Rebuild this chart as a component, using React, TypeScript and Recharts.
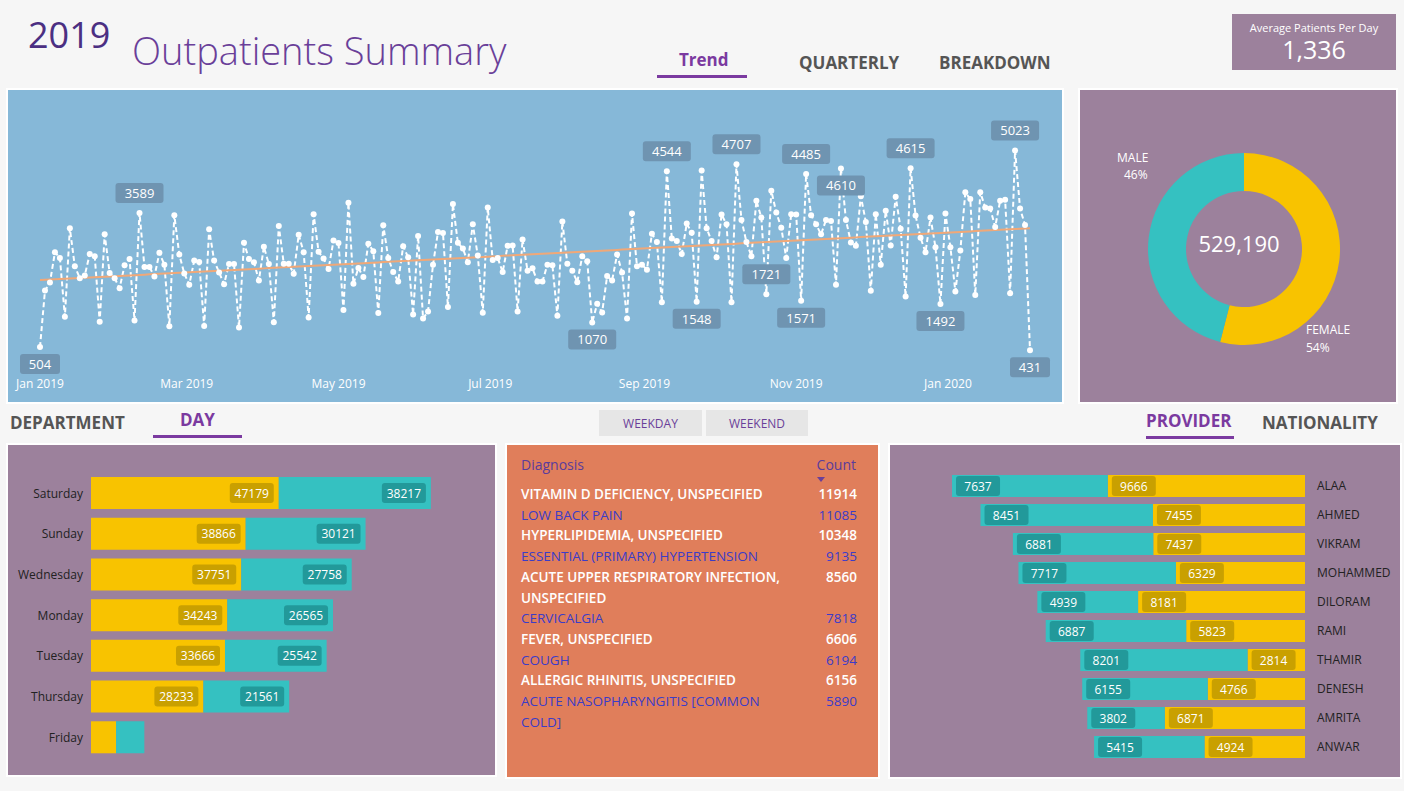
import {
  LineChart,
  Line,
  XAxis,
  YAxis,
  BarChart,
  Bar,
  LabelList,
  PieChart,
  Pie,
  Cell,
} from "recharts";

// daily outpatients, sampled every 2 days from Jan 1 2019
const visits = [
  504, 1803, 1989, 2685, 2554, 1200, 3234, 2360, 2089, 2151, 2646, 2592, 1084, 3095, 2206, 2089, 1858, 2383, 2530, 1115,
  3589, 2345, 2345, 2128, 2670, 2399, 984, 3536, 2631, 2198, 1935, 2492, 2461, 991, 3211, 2492, 2221, 1950, 2414, 2414,
  953, 2901, 2530, 2453, 2036, 2809, 2414, 1076, 3288, 2422, 2422, 2190, 3087, 2685, 1185, 3559, 2693, 2538, 2298, 2956,
  2894, 1355, 3822, 1958, 2321, 2113, 2878, 2708, 1285, 3304, 2554, 2229, 2012, 2824, 2569, 1254, 3056, 1161, 1324, 2399,
  3149, 3126, 1424, 3791, 2901, 2770, 2453, 3327, 2608, 1293, 3713, 2507, 2554, 2229, 2832, 2840, 1324, 2979, 2260, 2314,
  2012, 2012, 2399, 2383, 1223, 3389, 2422, 2260, 1997, 2592, 2476, 1070, 1502, 1301, 2136, 2035, 2631, 2221, 1162, 3574,
  2360, 2399, 2283, 3110, 2917, 1533, 4544, 3002, 2940, 2646, 3342, 3133, 1548, 4564, 3234, 2940, 2569, 3551, 3327, 1533,
  4707, 3427, 2917, 2592, 3868, 3481, 1721, 4100, 3597, 3250, 2553, 3559, 3551, 1571, 4485, 3536, 3327, 3095, 3427, 3404,
  1935, 4610, 3427, 2909, 2832, 3969, 3381, 1796, 3559, 2399, 3636, 2840, 3961, 3226, 1664, 4615, 3528, 3017, 2685, 3481,
  2801, 1492, 3574, 2801, 1780, 2724, 4061, 3907, 1703, 4061, 3713, 3690, 3265, 3868, 3891, 1742, 5023, 3690, 3311, 431,
];
const labelledUp = [3589, 4544, 4707, 1721, 4485, 4615, 5023];
const labelledDown = [504, 1070, 1548, 1571, 4610, 1492, 431];
const monthTicks = [0, 59, 120, 181, 243, 304, 365];
const monthLabels = ["Jan 2019", "Mar 2019", "May 2019", "Jul 2019", "Sep 2019", "Nov 2019", "Jan 2020"];

const weekdays = ["Saturday", "Sunday", "Wednesday", "Monday", "Tuesday", "Thursday", "Friday"];
const dayFemale = [47179, 38866, 37751, 34243, 33666, 28233, 6300];
const dayMale = [38217, 30121, 27758, 26565, 25542, 21561, 7100];

const providers = ["ALAA", "AHMED", "VIKRAM", "MOHAMMED", "DILORAM", "RAMI", "THAMIR", "DENESH", "AMRITA", "ANWAR"];
const providerMale = [7637, 8451, 6881, 7717, 4939, 6887, 8201, 6155, 3802, 5415];
const providerFemale = [9666, 7455, 7437, 6329, 8181, 5823, 2814, 4766, 6871, 4924];

const genders = ["FEMALE", "MALE"];
const genderCounts = [285763, 243427];
const genderPct = ["54%", "46%"];

const diagnoses = [
  "VITAMIN D DEFICIENCY, UNSPECIFIED",
  "LOW BACK PAIN",
  "HYPERLIPIDEMIA, UNSPECIFIED",
  "ESSENTIAL (PRIMARY) HYPERTENSION",
  "ACUTE UPPER RESPIRATORY INFECTION, UNSPECIFIED",
  "CERVICALGIA",
  "FEVER, UNSPECIFIED",
  "COUGH",
  "ALLERGIC RHINITIS, UNSPECIFIED",
  "ACUTE NASOPHARYNGITIS [COMMON COLD]",
];
const diagnosisCounts = [11914, 11085, 10348, 9135, 8560, 7818, 6606, 6194, 6156, 5890];

const FONT = "'Segoe UI', 'Open Sans', sans-serif";
const MAUVE = "#9c819c";
const YELLOW = "#f8c300";
const TEAL = "#35c1c1";
const PURPLE = "#6a3f99";

// least-squares trend line
const n = visits.length;
const xs = visits.map((_, i) => i * 2);
const mx = xs.reduce((a, b) => a + b, 0) / n;
const my = visits.reduce((a, b) => a + b, 0) / n;
const slope =
  xs.reduce((s, x, i) => s + (x - mx) * (visits[i] - my), 0) /
  xs.reduce((s, x) => s + (x - mx) ** 2, 0);
const trendData = visits.map((v, i) => ({
  day: xs[i],
  value: v,
  trend: my + slope * (xs[i] - mx),
}));

const dayData = weekdays.map((d, i) => ({ name: d, female: dayFemale[i], male: dayMale[i] }));
const providerData = providers.map((p, i) => ({ name: p, female: providerFemale[i], male: providerMale[i] }));
const genderData = genders.map((g, i) => ({ name: g, value: genderCounts[i] }));

const PointLabel = (props: any) => {
  const { x, y, value } = props;
  const up = labelledUp.includes(value);
  const down = labelledDown.includes(value);
  if (!up && !down) return null;
  const cy = up ? y - 20 : y + 17;
  const w = String(value).length * 8 + 16;
  return (
    <g>
      <rect x={x - w / 2} y={cy - 10} width={w} height={20} rx={3} fill="#6f94b1" />
      <text x={x} y={cy + 5} textAnchor="middle" fill="#fff" fontSize={13} fontFamily={FONT}>
        {value}
      </text>
    </g>
  );
};

const boxLabel = (fill: string, atEnd: boolean) => (props: any) => {
  const { x, y, width, height, value } = props;
  const left = Math.min(Number(x), Number(x) + Number(width));
  const wd = Math.abs(Number(width));
  if (!(wd >= 55)) return null;
  const w = 44;
  const bx = atEnd ? left + wd - w - 5 : left + 4;
  return (
    <g>
      <rect x={bx} y={y + height / 2 - 10} width={w} height={20} rx={3} fill={fill} />
      <text x={bx + w / 2} y={y + height / 2 + 4.5} textAnchor="middle" fill="#fff" fontSize={12} fontFamily={FONT}>
        {value}
      </text>
    </g>
  );
};

const Tab = ({ x, y, label, active, w }: any) => (
  <div style={{ position: "absolute", left: x, top: y, fontSize: 17, fontWeight: 700, color: active ? "#7b3aa0" : "#555" }}>
    {label}
    {active && <div style={{ position: "absolute", left: w[0], top: 27, width: w[1], height: 3, background: "#7b3aa0" }} />}
  </div>
);

export default function App() {
  return (
    <div
      style={{
        position: "absolute",
        left: 0,
        top: 0,
        width: 1404,
        height: 791,
        background: "#f6f6f6",
        fontFamily: FONT,
        overflow: "hidden",
      }}
    >
      <div style={{ position: "absolute", left: 28, top: 10, fontSize: 36, color: "#4b2f82" }}>2019</div>
      <div style={{ position: "absolute", left: 132, top: 24, fontSize: 38, fontWeight: 300, color: PURPLE }}>
        Outpatients Summary
      </div>
      <Tab x={679} y={48} label="Trend" active w={[-22, 90]} />
      <Tab x={799} y={51} label="QUARTERLY" />
      <Tab x={939} y={51} label="BREAKDOWN" />

      <div
        style={{
          position: "absolute",
          left: 1232,
          top: 14,
          width: 164,
          height: 56,
          background: MAUVE,
          color: "#fff",
          textAlign: "center",
        }}
      >
        <div style={{ fontSize: 11, marginTop: 6 }}>Average Patients Per Day</div>
        <div style={{ fontSize: 25, lineHeight: "28px" }}>1,336</div>
      </div>

      {/* trend */}
      <div style={{ position: "absolute", left: 6, top: 88, width: 1058, height: 316, background: "#fff" }} />
      <div style={{ position: "absolute", left: 8, top: 90, background: "#86b8d8" }}>
        <LineChart width={1054} height={312} data={trendData} margin={{ top: 18, right: 32, bottom: 0, left: 32 }}>
          <XAxis
            dataKey="day"
            type="number"
            domain={[0, 396]}
            ticks={monthTicks}
            tickFormatter={(v: number) => monthLabels[monthTicks.indexOf(v)]}
            axisLine={false}
            tickLine={false}
            tickMargin={4}
            height={33}
            tick={{ fill: "#fff", fontSize: 12, fontFamily: FONT }}
          />
          <YAxis hide domain={[0, 6000]} />
          <Line
            dataKey="value"
            stroke="#fff"
            strokeWidth={2}
            strokeDasharray="5 3"
            dot={{ r: 3, fill: "#fff", stroke: "#fff", strokeWidth: 0 }}
            isAnimationActive={false}
          >
            <LabelList dataKey="value" content={PointLabel} />
          </Line>
          <Line dataKey="trend" stroke="#f0a878" strokeWidth={2} dot={false} isAnimationActive={false} />
        </LineChart>
      </div>

      {/* gender donut */}
      <div style={{ position: "absolute", left: 1078, top: 88, width: 320, height: 316, background: "#fff" }} />
      <div style={{ position: "absolute", left: 1080, top: 90, width: 316, height: 312, background: MAUVE }}>
        <PieChart width={316} height={312}>
          <Pie
            data={genderData}
            dataKey="value"
            cx={159}
            cy={154}
            innerRadius={58}
            outerRadius={96}
            startAngle={90}
            endAngle={-270}
            stroke="none"
            isAnimationActive={false}
          >
            <Cell fill={YELLOW} />
            <Cell fill={TEAL} />
          </Pie>
          <text x={159} y={162} textAnchor="middle" fill="#fff" fontSize={22} fontFamily={FONT}>
            529,190
          </text>
          <text x={37} y={72} fill="#fff" fontSize={12} fontFamily={FONT}>
            {genders[1]}
          </text>
          <text x={44} y={89} fill="#fff" fontSize={12} fontFamily={FONT}>
            {genderPct[1]}
          </text>
          <text x={226} y={244} fill="#fff" fontSize={12} fontFamily={FONT}>
            {genders[0]}
          </text>
          <text x={226} y={262} fill="#fff" fontSize={12} fontFamily={FONT}>
            {genderPct[0]}
          </text>
        </PieChart>
      </div>

      <Tab x={10} y={411} label="DEPARTMENT" />
      <Tab x={180} y={408} label="DAY" active w={[-27, 89]} />
      <Tab x={1146} y={409} label="PROVIDER" active w={[0, 88]} />
      <Tab x={1262} y={411} label="NATIONALITY" />

      {/* day */}
      <div style={{ position: "absolute", left: 6, top: 443, width: 491, height: 334, background: "#fff" }} />
      <div style={{ position: "absolute", left: 8, top: 445, background: MAUVE }}>
        <BarChart
          width={487}
          height={330}
          data={dayData}
          layout="vertical"
          margin={{ top: 28, right: 6, bottom: 17, left: 0 }}
          barCategoryGap={4}
        >
          <XAxis type="number" hide domain={[0, 100000]} />
          <YAxis
            type="category"
            dataKey="name"
            width={83}
            axisLine={false}
            tickLine={false}
            tick={{ fill: "#222", fontSize: 12, fontFamily: FONT }}
          />
          <Bar dataKey="female" stackId="a" fill={YELLOW} barSize={32} isAnimationActive={false}>
            <LabelList dataKey="female" content={boxLabel("#c9a000", true)} />
          </Bar>
          <Bar dataKey="male" stackId="a" fill={TEAL} barSize={32} isAnimationActive={false}>
            <LabelList dataKey="male" content={boxLabel("#22999a", true)} />
          </Bar>
        </BarChart>
      </div>

      {/* weekday toggle */}
      <div style={{ position: "absolute", left: 599, top: 410, width: 103, height: 26, background: "#e6e6e6", color: PURPLE, fontSize: 12, textAlign: "center", lineHeight: "28px" }}>
        WEEKDAY
      </div>
      <div style={{ position: "absolute", left: 706, top: 410, width: 102, height: 26, background: "#e6e6e6", color: PURPLE, fontSize: 12, textAlign: "center", lineHeight: "28px" }}>
        WEEKEND
      </div>

      {/* diagnosis table */}
      <div style={{ position: "absolute", left: 505, top: 443, width: 375, height: 336, background: "#fff" }} />
      <div style={{ position: "absolute", left: 507, top: 445, width: 371, height: 332, background: "#e07e5b" }}>
        <div style={{ position: "absolute", left: 14, top: 10, fontSize: 14, color: "#5a3c9c" }}>Diagnosis</div>
        <div style={{ position: "absolute", right: 22, top: 10, fontSize: 14, color: "#5a3c9c" }}>Count</div>
        <div
          style={{
            position: "absolute",
            left: 310,
            top: 32,
            width: 0,
            height: 0,
            borderLeft: "4px solid transparent",
            borderRight: "4px solid transparent",
            borderTop: "5px solid #6a3f99",
          }}
        />
        <div style={{ position: "absolute", left: 14, top: 39, width: 336 }}>
          {diagnoses.map((d, i) => {
            const bold = i % 2 === 0;
            return (
              <div
                key={d}
                style={{
                  display: "flex",
                  justifyContent: "space-between",
                  fontSize: 13.5,
                  lineHeight: "20.7px",
                  color: bold ? "#fff" : "#3b3cc8",
                  fontWeight: bold ? 600 : 400,
                }}
              >
                <span style={{ width: 275 }}>{d}</span>
                <span>{diagnosisCounts[i]}</span>
              </div>
            );
          })}
        </div>
      </div>

      {/* provider */}
      <div style={{ position: "absolute", left: 888, top: 443, width: 514, height: 336, background: "#fff" }} />
      <div style={{ position: "absolute", left: 890, top: 445, background: MAUVE }}>
        <BarChart
          width={510}
          height={332}
          data={providerData}
          layout="vertical"
          margin={{ top: 26, right: 0, bottom: 16, left: 7 }}
          barCategoryGap={4}
        >
          <XAxis type="number" hide reversed domain={[0, 20000]} />
          <YAxis
            type="category"
            dataKey="name"
            orientation="right"
            width={95}
            axisLine={false}
            tickLine={false}
            tickMargin={6}
            tick={{ fill: "#222", fontSize: 12, fontFamily: FONT, textAnchor: "start" }}
          />
          <Bar dataKey="female" stackId="p" fill={YELLOW} barSize={22} isAnimationActive={false}>
            <LabelList dataKey="female" content={boxLabel("#c9a000", false)} />
          </Bar>
          <Bar dataKey="male" stackId="p" fill={TEAL} barSize={22} isAnimationActive={false}>
            <LabelList dataKey="male" content={boxLabel("#22999a", false)} />
          </Bar>
        </BarChart>
      </div>
    </div>
  );
}
